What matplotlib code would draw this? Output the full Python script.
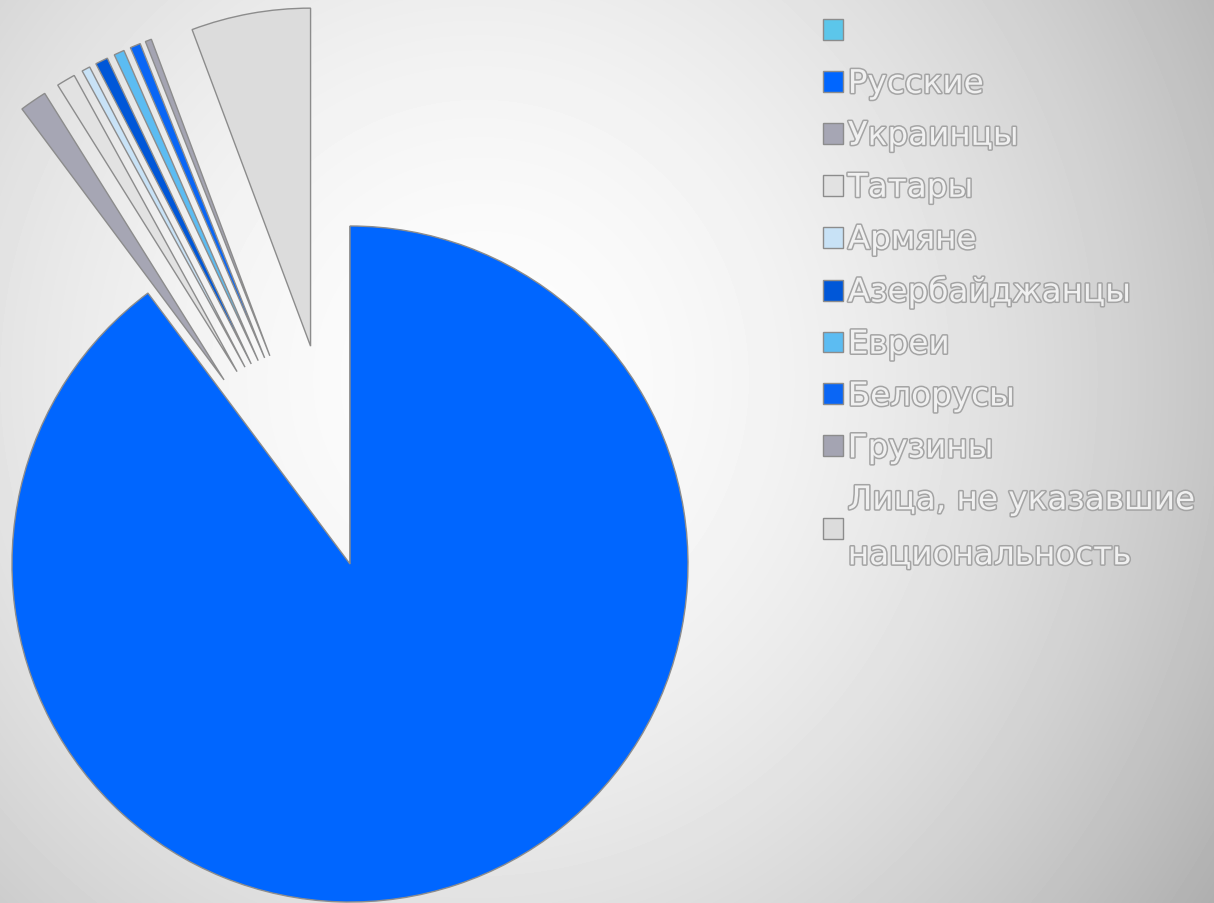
import matplotlib
matplotlib.use('Agg')
import matplotlib.pyplot as plt
import matplotlib.patheffects as pe
import numpy as np

# национальный состав, % (первая строка таблицы пустая)
labels = ['', 'Русские', 'Украинцы', 'Татары', 'Армяне', 'Азербайджанцы',
          'Евреи', 'Белорусы', 'Грузины', 'Лица, не указавшие\nнациональность']
values = [0, 89.8, 1.3, 0.9, 0.4, 0.6, 0.5, 0.5, 0.3, 5.7]
colors = ['#5cc6ea', '#0066ff', '#a6a6b4', '#e2e2e2', '#c8e2f6', '#0057d8',
          '#5cbcf2', '#0a66f5', '#a4a4b2', '#dcdcdc']
explode = [0, 0, 0.66, 0.66, 0.66, 0.66, 0.66, 0.66, 0.66, 0.655]

fig = plt.figure(figsize=(12.14, 9.04), dpi=100)

# фон: радиальный градиент
bg = fig.add_axes([0, 0, 1, 1])
bg.axis('off')
yy, xx = np.mgrid[0:904, 0:1214]
d = np.sqrt((xx - 520) ** 2 + (yy - 380) ** 2) / 700.0
g = 1.0 - 0.18 * d ** 1.8 - 0.05 * (xx / 1214) ** 2
bg.imshow(g, cmap='gray', vmin=0, vmax=1, aspect='auto')

ax = fig.add_axes([0, 0, 1, 1])
ax.patch.set_alpha(0)
wedges, _ = ax.pie(values, colors=colors, explode=explode, startangle=90,
                   counterclock=False, radius=1,
                   wedgeprops=dict(edgecolor='#8c8c8c', linewidth=1))
ax.set_xlim(-350 / 338, 864 / 338)
ax.set_ylim(-339 / 338, 565 / 338)
ax.axis('off')

leg = ax.legend(wedges, labels, loc='upper left',
                bbox_to_anchor=(823 / 1214, 1 - 16 / 904),
                bbox_transform=fig.transFigure, frameon=False,
                prop={'family': 'DejaVu Sans', 'size': 23.5},
                handlelength=0.61, handleheight=0.61, handletextpad=0.15,
                labelspacing=0.58, borderpad=0, borderaxespad=0)
for t in leg.get_texts():
    t.set_color('#f0f0f0')
    t.set_path_effects([pe.withStroke(linewidth=2.2, foreground='#a4a4a4')])
leg.get_texts()[-1].set_linespacing(1.85)
for h in leg.legend_handles:
    h.set_edgecolor('#8c8c8c')

fig.savefig('out.png', dpi=100)
